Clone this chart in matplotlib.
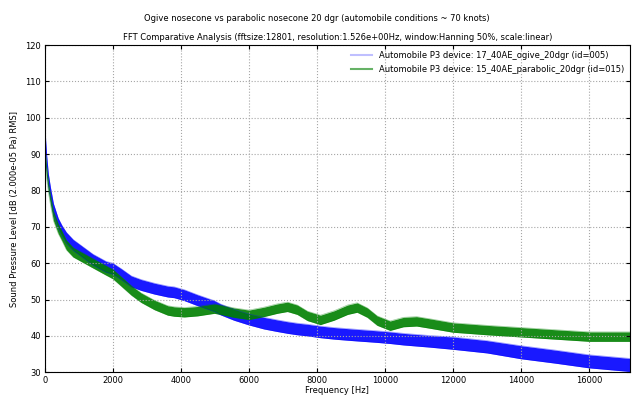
import matplotlib
matplotlib.use('Agg')
import matplotlib.pyplot as plt
from matplotlib.lines import Line2D
import numpy as np

# frequency points [Hz]
freq = [0, 20, 50, 100, 160, 250, 390, 500, 630, 830, 1120, 1410, 1800, 2000,
        2240, 2540, 2830, 3220, 3610, 3800, 4100, 4490, 4980, 5160, 5560, 6000,
        6440, 6830, 7130, 7420, 7720, 8100, 8500, 8900, 9180, 9480, 9770, 10150,
        10540, 10930, 11320, 12000, 13000, 14000, 15000, 16000, 17200]

# ogive nosecone (id=005), centre of the noisy band [dB]
ogive_db = [96, 92, 88, 83, 79.5, 75, 71, 69, 67, 65, 63, 61, 59, 58.5,
            57, 55, 54, 53, 52.2, 52.0, 51.2, 49.8, 48.2, 47.3, 45.8, 44.5,
            43.5, 42.8, 42.3, 41.9, 41.6, 41.1, 40.7, 40.4, 40.2, 40.0, 39.8, 39.5,
            39.1, 38.8, 38.5, 38.0, 37.0, 35.5, 34.3, 33.0, 32.0]
# half-height of the noise band [dB]
ogive_spread = [2.5, 2.0, 1.8, 1.6, 1.5, 1.4, 1.4, 1.4, 1.5, 1.5, 1.5, 1.5, 1.5, 1.5,
                1.5, 1.5, 1.5, 1.5, 1.5, 1.5, 1.5, 1.5, 1.5, 1.5, 1.5, 1.5,
                1.6, 1.6, 1.6, 1.6, 1.6, 1.6, 1.6, 1.6, 1.6, 1.6, 1.6, 1.6,
                1.6, 1.6, 1.6, 1.7, 1.7, 1.8, 1.8, 1.8, 1.8]

# parabolic nosecone (id=015)
parabolic_db = [91, 88, 85, 81, 77.5, 73, 69.5, 67.5, 65, 63, 61.5, 60, 58, 57,
                55, 52.5, 50.5, 48.5, 47, 46.7, 46.5, 46.8, 47.5, 47.2, 46.4, 45.8,
                46.6, 47.5, 48.0, 47.2, 45.5, 44.4, 45.6, 47.2, 47.8, 46.4, 44.2, 42.8,
                43.8, 44.0, 43.4, 42.3, 41.6, 41.0, 40.4, 39.8, 39.8]
parabolic_spread = [2.0, 1.8, 1.6, 1.4, 1.3, 1.3, 1.3, 1.3, 1.3, 1.3, 1.3, 1.3, 1.3, 1.3,
                    1.3, 1.3, 1.3, 1.3, 1.3, 1.3, 1.3, 1.3, 1.3, 1.3, 1.3, 1.3,
                    1.3, 1.3, 1.3, 1.3, 1.3, 1.3, 1.3, 1.3, 1.3, 1.3, 1.3, 1.3,
                    1.3, 1.3, 1.3, 1.3, 1.3, 1.3, 1.3, 1.3, 1.3]

labels = ['Automobile P3 device: 17_40AE_ogive_20dgr (id=005)',
          'Automobile P3 device: 15_40AE_parabolic_20dgr (id=015)']

fig = plt.figure(figsize=(6.33, 3.96), dpi=100)
ax = fig.add_axes([0.071, 0.06, 0.924, 0.826])

series = [(ogive_db, ogive_spread, 'b'), (parabolic_db, parabolic_spread, 'g')]
for vals, spread, col in series:
    v = np.array(vals)
    s = np.array(spread)
    ax.fill_between(freq, v - s, v + s, color=col, alpha=0.9, linewidth=0)
    ax.plot(freq, v + s, color=col, alpha=0.4, linewidth=0.5)
    ax.plot(freq, v - s, color=col, alpha=0.4, linewidth=0.5)

ax.set_xlim(0, 17200)
ax.set_ylim(30, 120)
ax.set_xticks(range(0, 17000, 2000))
ax.set_yticks(range(30, 121, 10))
ax.grid(True, linestyle=':', color='0.65', linewidth=0.8)
ax.tick_params(direction='in', labelsize=6, length=3, top=True, right=True, pad=3)
for sp in ax.spines.values():
    sp.set_linewidth(0.8)

ax.set_xlabel('Frequency [Hz]', fontsize=6, labelpad=0.5)
ax.set_ylabel('Sound Pressure Level [dB (2.000e-05 Pa) RMS]', fontsize=6, labelpad=4)
ax.set_title('FFT Comparative Analysis (fftsize:12801, resolution:1.526e+00Hz, '
             'window:Hanning 50%, scale:linear)', fontsize=6, pad=4)
fig.suptitle('Ogive nosecone vs parabolic nosecone 20 dgr (automobile conditions ~ 70 knots)',
             fontsize=6, y=0.965)

handles = [Line2D([], [], color='b', alpha=0.25, linewidth=1.5),
           Line2D([], [], color='g', alpha=0.6, linewidth=1.5)]
ax.legend(handles, labels, loc='upper right', fontsize=6, frameon=False,
          handlelength=2.5, borderaxespad=0.3, labelspacing=0.6)

fig.savefig('out.png', dpi=100)
